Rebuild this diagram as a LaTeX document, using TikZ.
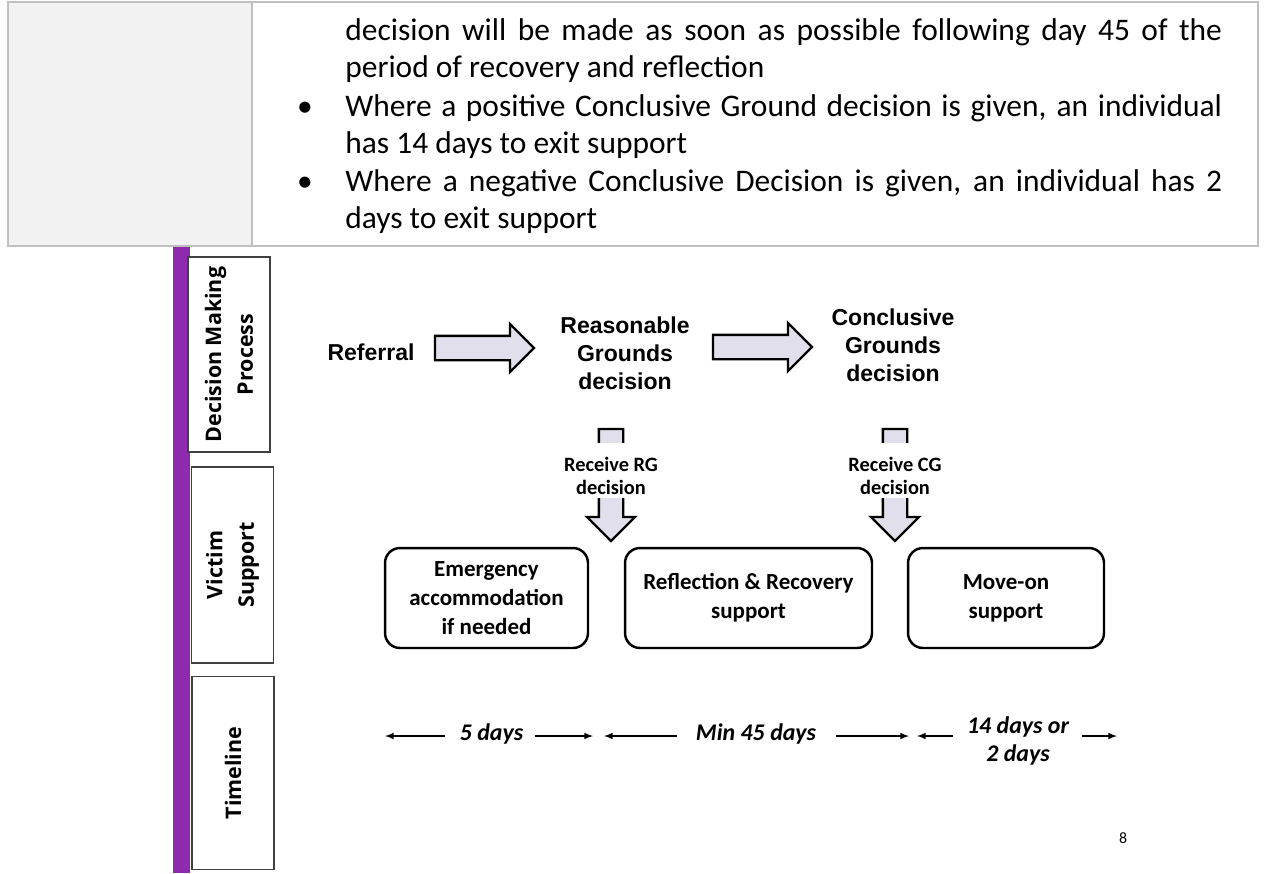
\documentclass[tikz,border=0pt]{standalone}
\usepackage{fontspec}
\setmainfont{Carlito}
\newfontfamily\headfont{Liberation Sans}
\newfontfamily\sidefont{Open Sans}
\usetikzlibrary{shapes.arrows}

\definecolor{tablegray}{HTML}{BFBFBF}
\definecolor{cellgray}{HTML}{F2F2F2}
\definecolor{barpurple}{HTML}{8E2AAE}
\definecolor{arrowfill}{HTML}{E1DFEB}

\tikzset{
  tabletext/.style={anchor=base west, inner sep=0pt, font=\fontsize{17.9}{21}\selectfont},
  sidebox/.style={draw=black!75, line width=0.7pt, fill=white, rotate=90, align=center,
    minimum height=1.64cm, font=\sidefont\bfseries\fontsize{12.2}{18}\selectfont},
  stagetext/.style={align=center, font=\headfont\bfseries\fontsize{13.1}{15.9}\selectfont},
  blockarrow/.style={single arrow, draw=black, line width=1.3pt, fill=arrowfill,
    inner xsep=0pt, inner ysep=0.22cm, single arrow head extend=0.24cm,
    single arrow head indent=0pt},
  downarrow/.style={blockarrow, shape border rotate=270, inner xsep=0.22cm, inner ysep=0pt},
  gapmask/.style={fill=white, inner sep=0pt, minimum width=1.2cm, minimum height=1.1cm},
  getlabel/.style={align=center, inner sep=1pt,
    font=\bfseries\fontsize{11.6}{13}\selectfont},
  supportbox/.style={draw=black, line width=1.4pt, rounded corners=0.3cm, align=center,
    minimum height=2cm, font=\bfseries\fontsize{13.1}{16.5}\selectfont},
  spantext/.style={align=center, inner sep=0pt, font=\bfseries\itshape\fontsize{13.6}{15.5}\selectfont},
  spanline/.style={line width=0.7pt, -latex}
}

\begin{document}
\begin{tikzpicture}[x=0.02cm, y=-0.02cm]

\useasboundingbox (0,0) rectangle (1265,873);

% table at the top
\fill[cellgray] (8,2) rectangle (252,246);
\draw[tablegray, line width=1.1pt] (8,2) rectangle (1258,246);
\draw[tablegray, line width=1.1pt] (252,2) -- (252,246);

\draw (345,40)  node [tabletext] (l1) {\makebox[17.54cm][s]{decision will be made as soon as possible following day 45 of the}} ;
\draw (345,77)  node [tabletext] (l2) {period of recovery and reflection} ;
\draw (305,116) node [tabletext, anchor=base] (b1) {\textbullet} ;
\draw (345,116) node [tabletext] (l3) {\makebox[17.54cm][s]{Where a positive Conclusive Ground decision is given, an individual}} ;
\draw (345,153) node [tabletext] (l4) {has 14 days to exit support} ;
\draw (305,191) node [tabletext, anchor=base] (b2) {\textbullet} ;
\draw (345,191) node [tabletext] (l5) {\makebox[17.54cm][s]{Where a negative Conclusive Decision is given, an individual has 2}} ;
\draw (345,228) node [tabletext] (l6) {days to exit support} ;

% side headings
\fill[barpurple] (173,247) rectangle (190,873);

\draw (229,354.5) node [sidebox, minimum width=3.9cm] (dmp) {Decision Making\\Process} ;
\draw (232.5,565) node [sidebox, minimum width=3.92cm] (vs)  {Victim\\Support} ;
\draw (233,773)   node [sidebox, minimum width=3.86cm] (tl)  {Timeline} ;

% decision making process
\draw (371,352) node [stagetext] (ref) {Referral} ;
\draw (625,353) node [stagetext] (rg)  {Reasonable\\Grounds\\decision} ;
\draw (893,345) node [stagetext] (cg)  {Conclusive\\Grounds\\decision} ;

\draw (478.5,348) node [blockarrow, minimum height=1.98cm] (a1) {} ;
\draw (756.5,347) node [blockarrow, minimum height=1.98cm] (a2) {} ;

% victim support
\draw (611,479) node [downarrow, minimum height=2.24cm] (rgdown) {} ;
\draw (895,479) node [downarrow, minimum height=2.24cm] (cgdown) {} ;
\draw (611,470.5) node [gapmask] (rgmask) {} ;
\draw (895,470.5) node [gapmask] (cgmask) {} ;
\draw (611,476) node [getlabel] (rgget) {Receive RG\\decision} ;
\draw (895,476) node [getlabel] (cgget) {Receive CG\\decision} ;

\draw (486.5,598) node [supportbox, minimum width=4.06cm] (emerg) {Emergency\\accommodation\\if needed} ;
\draw (748.5,598) node [supportbox, minimum width=4.94cm] (rr)    {Reflection \& Recovery\\support} ;
\draw (1006,598)  node [supportbox, minimum width=3.92cm] (moveon) {Move-on\\support} ;

% timeline
\coordinate (t0) at (385,736) ;
\coordinate (t1) at (593,736) ;
\coordinate (t2) at (604,736) ;
\coordinate (t3) at (909,736) ;
\coordinate (t4) at (917,736) ;
\coordinate (t5) at (1117,736) ;

\draw (491.5,734) node [spantext] (d1) {5 days} ;
\draw (756,734)   node [spantext] (d2) {Min 45 days} ;
\draw (1018,741)  node [spantext] (d3) {14 days or\\2 days} ;

\draw[spanline] ([xshift=-0.28cm]d1.west |- t0) -- (t0) ;
\draw[spanline] ([xshift=0.22cm]d1.east |- t1) -- (t1) ;
\draw[spanline] ([xshift=-0.38cm]d2.west |- t2) -- (t2) ;
\draw[spanline] ([xshift=0.4cm]d2.east |- t3) -- (t3) ;
\draw[spanline] ([xshift=-0.28cm]d3.west |- t4) -- (t4) ;
\draw[spanline] ([xshift=0.26cm]d3.east |- t5) -- (t5) ;

% page number
\draw (1123,838) node [font=\fontsize{9}{11}\selectfont] (page) {8} ;

\end{tikzpicture}
\end{document}
